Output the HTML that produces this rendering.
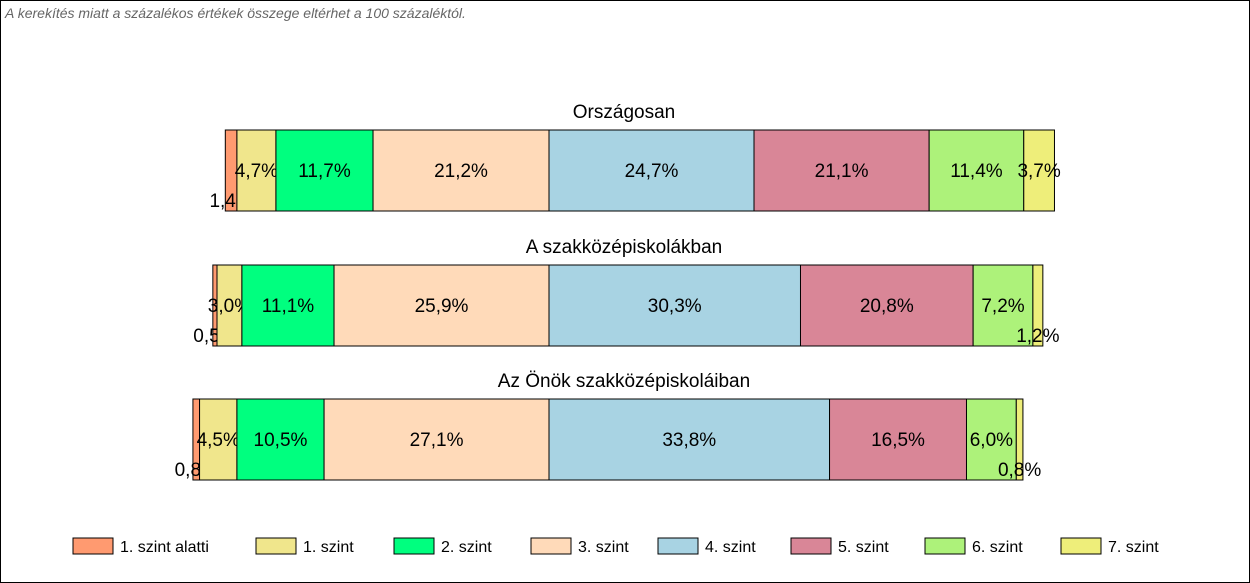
<!DOCTYPE html>
<html><head><meta charset="utf-8"><style>
body{margin:0;background:#fff;}
#c{position:relative;width:1248px;height:581px;border:1px solid #000;overflow:hidden;font-family:"Liberation Sans",Arial,sans-serif;}
.note{position:absolute;left:4px;top:4px;font-size:14px;font-style:italic;color:#666;}
</style></head><body>
<div id="c">
<div class="note">A kerekítés miatt a  százalékos értékek összege eltérhet a 100 százaléktól.</div>
<svg id="s" width="1248" height="581" style="position:absolute;left:0;top:0"></svg>
</div>
<script>
const levels=["1. szint alatti","1. szint","2. szint","3. szint","4. szint","5. szint","6. szint","7. szint"];
const colors=["#FF9A70","#F0E68C","#00FF7F","#FFDAB9","#A8D3E3","#D98697","#ADF27A","#EEEE7A"];
const groups=["Országosan","A szakközépiskolákban","Az Önök szakközépiskoláiban"];
const values0=[1.4,4.7,11.7,21.2,24.7,21.1,11.4,3.7];
const values1=[0.5,3.0,11.1,25.9,30.3,20.8,7.2,1.2];
const values2=[0.8,4.5,10.5,27.1,33.8,16.5,6.0,0.8];
const allValues=[values0,values1,values2];
const svg=document.getElementById('s');const NS="http://www.w3.org/2000/svg";
function mk(t,a,txt){const e=document.createElementNS(NS,t);for(const k in a)e.setAttribute(k,a[k]);if(txt!==undefined)e.textContent=txt;svg.appendChild(e);return e;}
const center=548,scale=8.3,barH=81,barTops=[129,264,398];
function px(v){return v*scale;}
allValues.forEach((vals,g)=>{
  const top=barTops[g];
  const t=mk('text',{x:center+75,y:top-12,'font-size':19,'text-anchor':'middle',fill:'#000'},groups[g]);
  
  
  let x=center-px(vals[0]+vals[1]+vals[2]+vals[3]);
  vals.forEach((v,i)=>{
    const w=px(v);
    const r=mk('rect',{x:x,y:top,width:w,height:barH,fill:colors[i],stroke:'#000','stroke-width':1});
    
    
    const small=v<2;
    const lab=mk('text',{x:x+w/2,y:small?top+77:top+47,'font-size':19,'text-anchor':'middle',fill:'#000'},v.toFixed(1).replace('.',',')+'%');
    
    
    x+=w;
  });
});
const legX=[72,255,393,530,657,790,924,1060];
levels.forEach((l,i)=>{
  const r=mk('rect',{x:legX[i],y:537,width:40,height:16,fill:colors[i],stroke:'#000','stroke-width':1});
  
  
  const t=mk('text',{x:legX[i]+47,y:551,'font-size':16,fill:'#000'},l);
  
  
});
</script>
</body></html>
